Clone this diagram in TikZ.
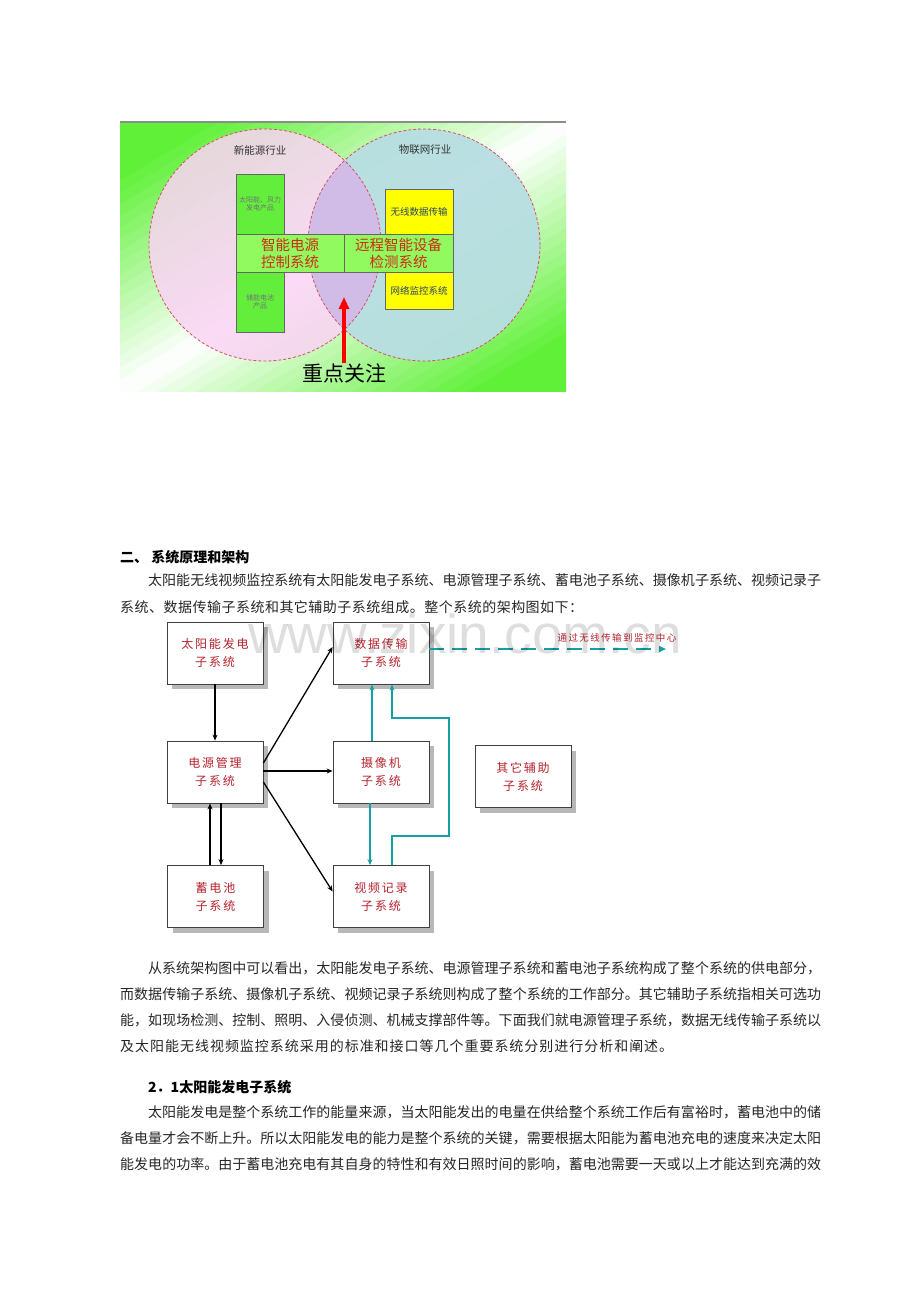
\documentclass[tikz,border=0pt]{standalone}
\usepackage{fontspec}
\newfontfamily\cjk{Noto Sans CJK SC}
\newfontfamily\boxfont[LetterSpace=15]{Noto Sans CJK SC}
\newfontfamily\wmfont{Liberation Sans}
\usetikzlibrary{arrows.meta,shadows}
\definecolor{boxred}{RGB}{180,35,45}
\definecolor{tealc}{RGB}{20,160,165}
\definecolor{gbox}{RGB}{100,238,60}
\definecolor{gbar}{RGB}{145,250,95}
\definecolor{ybox}{RGB}{255,255,0}
\definecolor{pinkc}{RGB}{250,212,244}
\definecolor{bluec}{RGB}{184,222,226}
\definecolor{lavc}{RGB}{208,188,230}
\definecolor{dashred}{RGB}{215,80,100}
\definecolor{bggreen}{RGB}{95,240,55}
\definecolor{barred}{RGB}{205,45,20}
\definecolor{ytext}{RGB}{40,70,100}
\makeatletter
\def\jst#1{\jst@a#1\relax}
\def\jst@a#1{#1\jst@b}
\def\jst@b#1{\ifx\relax#1\else\hfill#1\expandafter\jst@b\fi}
\makeatother
\begin{document}
\begin{tikzpicture}[x=1pt,y=-1pt,
  para/.style={anchor=west,inner sep=0pt,font=\cjk\fontsize{14}{14}\selectfont,text=black!85},
  head/.style={anchor=west,inner sep=0pt,font=\cjk\bfseries\fontsize{14}{14}\selectfont,text=black},
  sysbox/.style={draw=black!75,fill=white,line width=0.8pt,minimum width=96pt,minimum height=62pt,
    drop shadow={shadow xshift=5pt,shadow yshift=-5pt,fill=black!28,opacity=1},
    font=\boxfont\fontsize{12}{18}\selectfont,text=boxred,align=center,inner sep=0pt},
  arr/.style={line width=1.3pt,black,-{Stealth[length=6pt,width=5pt]}},
  tarr/.style={line width=1.3pt,tealc,-{Stealth[length=6pt,width=5pt]}},
  gcell/.style={draw=black!60,line width=0.6pt,fill=gbox},
  bcell/.style={draw=black!60,line width=0.6pt,fill=gbar},
  ycell/.style={draw=black!60,line width=0.6pt,fill=ybox},
  circlab/.style={inner sep=0pt,font=\cjk\fontsize{10.5}{12}\selectfont,text=black!80},
]
\useasboundingbox (0,0) rectangle (920,1302);
\fill[white] (0,0) rectangle (920,1302);

% ---------------- top picture ----------------
\begin{scope}
  \clip (120,123) rectangle (566,391);
  \fill[bggreen] (120,123) rectangle (566,391);
  \foreach \i in {-25,...,24}{
    \pgfmathsetmacro\ta{\i*10}
    \pgfmathsetmacro\tb{\i*10+10.8}
    \pgfmathsetmacro\f{min(100,abs(\i*10+5)/185*100)}
    \fill[bggreen!\f!white]
      ({343+\ta*0.515+400*0.857},{257+\ta*0.857-400*0.515}) --
      ({343+\tb*0.515+400*0.857},{257+\tb*0.857-400*0.515}) --
      ({343+\tb*0.515-400*0.857},{257+\tb*0.857+400*0.515}) --
      ({343+\ta*0.515-400*0.857},{257+\ta*0.857+400*0.515}) -- cycle;
  }
\end{scope}
\draw[black!45,line width=2pt] (120,122) -- (566,122);
\fill[pinkc,fill opacity=0.85] (265,245) circle (116pt);
\fill[bluec,fill opacity=0.95] (424,245) circle (116pt);
\begin{scope}
  \clip (265,245) circle (116pt);
  \fill[lavc] (424,245) circle (116pt);
\end{scope}
\draw[dashred,line width=0.8pt,dash pattern=on 3pt off 2pt] (265,245) circle (116pt);
\draw[dashred,line width=0.8pt,dash pattern=on 3pt off 2pt] (424,245) circle (116pt);
\node[circlab] (lab1) at (260,150) {新能源行业};
\node[circlab] (lab2) at (425,150) {物联网行业};

\node[gcell,minimum width=48pt,minimum height=60pt,inner sep=0pt,
  font=\cjk\fontsize{7}{8.5}\selectfont,text=black!55,align=center] (g1) at (260,204) {太阳能、风力\\发电产品};
\node[gcell,minimum width=48pt,minimum height=60pt,inner sep=0pt,
  font=\cjk\fontsize{7}{8.5}\selectfont,text=black!55,align=center] (g2) at (260,302) {储能电池\\产品};
\node[bcell,minimum width=108pt,minimum height=38pt,inner sep=0pt,
  font=\cjk\fontsize{14.5}{17}\selectfont,text=barred,align=center] (b1) at (290,253) {智能电源\\控制系统};
\node[bcell,minimum width=109pt,minimum height=38pt,inner sep=0pt,
  font=\cjk\fontsize{14.5}{17}\selectfont,text=barred,align=center] (b2) at (398.5,253) {远程智能设备\\检测系统};
\node[ycell,minimum width=68pt,minimum height=45pt,inner sep=0pt,
  font=\cjk\fontsize{9.5}{11}\selectfont,text=ytext] (y1) at (419,211.5) {无线数据传输};
\node[ycell,minimum width=68pt,minimum height=37pt,inner sep=0pt,
  font=\cjk\fontsize{9.5}{11}\selectfont,text=ytext] (y2) at (419,290.5) {网络监控系统};
\node[inner sep=0pt,font=\cjk\fontsize{21}{22}\selectfont,text=black] (focus) at (344,373) {重点关注};
\coordinate (ftip) at (344,297);
\draw[red,line width=3.2pt,-{Triangle[length=12pt,width=10pt]}] (focus.north) -- (ftip);

% ---------------- text ----------------
\node[head] (h1) at (120,557) {二、 系统原理和架构};
\node[para] (p1a) at (148,580) {\makebox[673pt][l]{\jst{太阳能无线视频监控系统有太阳能发电子系统、电源管理子系统、蓄电池子系统、摄像机子系统、视频记录子}}};
\node[para] (p1b) at (120,607) {\makebox[463pt][l]{\jst{系统、数据传输子系统和其它辅助子系统组成。整个系统的架构图如下：}}};

% ---------------- architecture diagram ----------------
\node[sysbox] (solar) at (215,653) {太阳能发电\\子系统};
\node[sysbox] (power) at (215,772) {电源管理\\子系统};
\node[sysbox] (batt) at (215.5,896.5) {蓄电池\\子系统};
\node[sysbox] (data) at (381,653) {数据传输\\子系统};
\node[sysbox] (cam) at (381,772) {摄像机\\子系统};
\node[sysbox] (video) at (381,896.5) {视频记录\\子系统};
\node[sysbox] (other) at (523,776.5) {其它辅助\\子系统};

\draw[arr] (solar) -- (power);
\draw[arr] ([yshift=9pt]power.east) -- ([yshift=6pt]data.west);
\draw[arr] ([yshift=1pt]power.east) -- ([yshift=1pt]cam.west);
\draw[arr] ([yshift=-10pt]power.east) -- ([yshift=5pt]video.west);
\draw[arr] ([xshift=-5.5pt]batt.north) -- ([xshift=-5pt]power.south);
\draw[arr] ([xshift=6pt]power.south) -- ([xshift=5.5pt]batt.north);

\draw[tarr] ([xshift=-9pt]cam.north) -- ([xshift=-9pt]data.south);
\draw[tarr] ([xshift=-11pt]cam.south) -- ([xshift=-11pt]video.north);
\coordinate (r1) at (449,836);
\coordinate (r2) at (449,718);
\draw[tarr] ([xshift=11pt]video.north) |- (r1) -- (r2) -| ([xshift=11pt]data.south);
\coordinate (mc) at (666,649);
\draw[line width=1.6pt,tealc,dash pattern=on 15pt off 8pt,-{Triangle[length=7pt,width=6pt]}] ([yshift=4pt]data.east) -- (mc);
\node[inner sep=0pt,font=\boxfont\fontsize{9.5}{10}\selectfont,text=boxred] (mclab) at (617,638) {通过无线传输到监控中心};

\node[inner sep=0pt,font=\wmfont\fontsize{55}{55}\selectfont,text=black,text opacity=0.13] (wm) at (465,634) {www.zixin.com.cn};

% ---------------- lower text ----------------
\node[para] (p2a) at (148,968) {\makebox[673pt][l]{\jst{从系统架构图中可以看出，太阳能发电子系统、电源管理子系统和蓄电池子系统构成了整个系统的供电部分，}}};
\node[para] (p2b) at (120,994) {\makebox[701pt][l]{\jst{而数据传输子系统、摄像机子系统、视频记录子系统则构成了整个系统的工作部分。其它辅助子系统指相关可选功}}};
\node[para] (p2c) at (120,1020) {\makebox[701pt][l]{\jst{能，如现场检测、控制、照明、入侵侦测、机械支撑部件等。下面我们就电源管理子系统，数据无线传输子系统以}}};
\node[para] (p2d) at (120,1046) {\makebox[553pt][l]{\jst{及太阳能无线视频监控系统采用的标准和接口等几个重要系统分别进行分析和阐述。}}};

\node[head] (h2) at (148,1087) {2．1太阳能发电子系统};
\node[para] (p3a) at (148,1112) {\makebox[673pt][l]{\jst{太阳能发电是整个系统工作的能量来源，当太阳能发出的电量在供给整个系统工作后有富裕时，蓄电池中的储}}};
\node[para] (p3b) at (120,1138) {\makebox[701pt][l]{\jst{备电量才会不断上升。所以太阳能发电的能力是整个系统的关键，需要根据太阳能为蓄电池充电的速度来决定太阳}}};
\node[para] (p3c) at (120,1164) {\makebox[701pt][l]{\jst{能发电的功率。由于蓄电池充电有其自身的特性和有效日照时间的影响，蓄电池需要一天或以上才能达到充满的效}}};
\end{tikzpicture}
\end{document}
